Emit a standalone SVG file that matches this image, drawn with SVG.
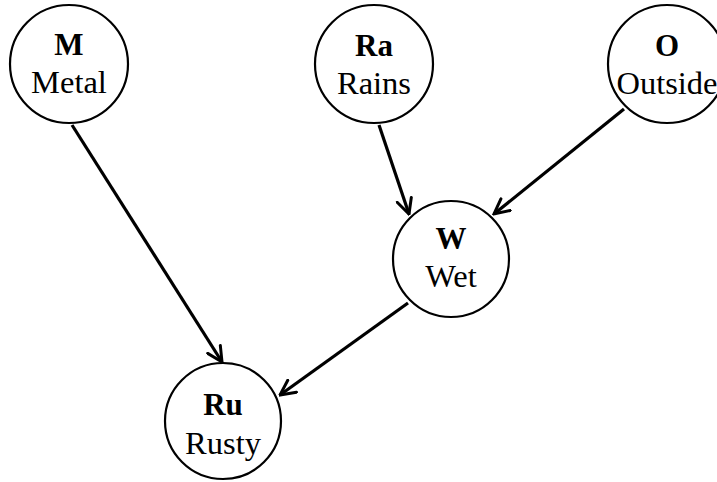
<svg xmlns="http://www.w3.org/2000/svg" width="717" height="482" viewBox="0 0 717 482">
  <style>
    .node circle { fill: #ffffff; stroke: #000000; stroke-width: 2.2; }
    .abbr { font-family: "Liberation Serif", "Times New Roman", serif; font-size: 31px; font-weight: bold; text-anchor: middle; fill: #000; }
    .name { font-family: "Liberation Serif", "Times New Roman", serif; font-size: 32.5px; text-anchor: middle; fill: #000; }
    .edge { stroke: #000; stroke-width: 3.2; fill: none; marker-end: url(#arrow); }
  </style>
  <defs>
    <!-- open V arrowhead, tip sits on the line end -->
    <marker id="arrow" viewBox="0 0 12 12" refX="11" refY="6" markerWidth="5.6" markerHeight="5.6" markerUnits="strokeWidth" orient="auto">
      <path d="M1,1 L11,6 L1,11" fill="none" stroke="#000" stroke-width="2" stroke-linecap="round" stroke-linejoin="miter"/>
    </marker>
  </defs>

  <g id="edges">
    <line class="edge" x1="72" y1="125" x2="222" y2="362"/>
    <line class="edge" x1="379" y1="125" x2="409" y2="214"/>
    <line class="edge" x1="624" y1="109" x2="494" y2="214"/>
    <line class="edge" x1="408" y1="303" x2="280" y2="395"/>
  </g>

  <g id="node-M" class="node">
    <circle cx="69" cy="64" r="59"/>
    <text class="abbr" x="69" y="55">M</text>
    <text class="name" x="69" y="93">Metal</text>
  </g>
  <g id="node-Ra" class="node">
    <circle cx="374" cy="64" r="59"/>
    <text class="abbr" x="374" y="56">Ra</text>
    <text class="name" x="374" y="94">Rains</text>
  </g>
  <g id="node-O" class="node">
    <circle cx="667" cy="64" r="59"/>
    <text class="abbr" x="667" y="56">O</text>
    <text class="name" x="667" y="94">Outside</text>
  </g>
  <g id="node-W" class="node">
    <circle cx="451" cy="259" r="58"/>
    <text class="abbr" x="451" y="249">W</text>
    <text class="name" x="451" y="287">Wet</text>
  </g>
  <g id="node-Ru" class="node">
    <circle cx="223" cy="421" r="58"/>
    <text class="abbr" x="223" y="415">Ru</text>
    <text class="name" x="223" y="454">Rusty</text>
  </g>
</svg>
